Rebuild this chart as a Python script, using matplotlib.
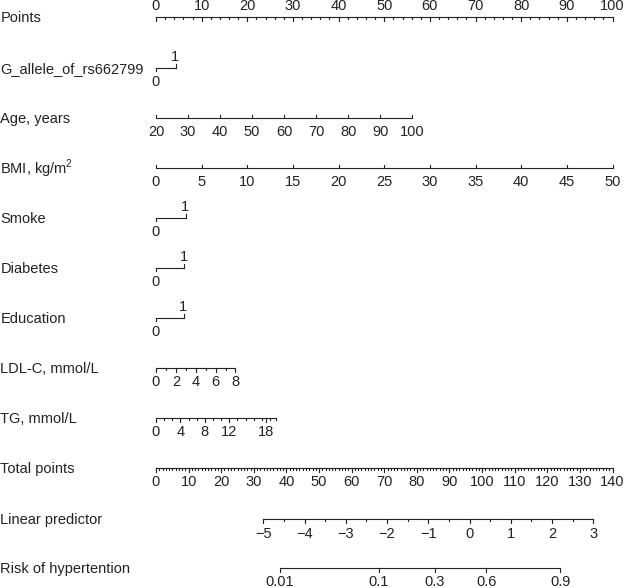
import numpy as np
import matplotlib
matplotlib.use("Agg")
import matplotlib.pyplot as plt

plt.rcParams['font.family'] = ['Liberation Sans', 'DejaVu Sans']
plt.rcParams['mathtext.fontset'] = 'custom'
plt.rcParams['mathtext.rm'] = 'Liberation Sans'

# ---------------- data ----------------
row_labels = ["Points", "G_allele_of_rs662799", "Age, years", r"BMI, kg/m$^{\mathregular{2}}$",
              "Smoke", "Diabetes", "Education", "LDL-C, mmol/L", "TG, mmol/L",
              "Total points", "Linear predictor", "Risk of hypertention"]

points_ticks = list(range(0, 101, 10))

g_allele_levels = [0, 1]
g_allele_points = [0, 4.3]

age_ticks = list(range(20, 101, 10))
age_points = [0, 56.1]          # points at age 20 and age 100

bmi_ticks = list(range(0, 51, 5))
bmi_points = [0, 100]           # points at BMI 0 and 50

smoke_levels = [0, 1]
smoke_points = [0, 6.5]
diabetes_levels = [0, 1]
diabetes_points = [0, 6.2]
education_levels = [0, 1]
education_points = [0, 6.1]

ldl_ticks = [0, 2, 4, 6, 8]
ldl_points = [0, 17.4]          # points at LDL 0 and 8

tg_ticks = [0, 4, 8, 12, 18]
tg_range = [0, 19.6]
tg_points_per_unit = 24.1 / 18

total_ticks = list(range(0, 141, 10))

lp_ticks = [-5, -4, -3, -2, -1, 0, 1, 2, 3]
lp_total_at = [32.9, 134.1]     # total points at LP -5 and LP 3

risk_ticks = [0.01, 0.1, 0.3, 0.6, 0.9]
risk_labels = ["0.01", "0.1", "0.3", "0.6", "0.9"]

# ---------------- layout ----------------
X0, X1 = 156.0, 612.5
px_per_point = (X1 - X0) / 100.0
px_per_total = (X1 - X0) / 140.0
row_y = [17, 68, 118, 168, 218, 268, 318, 368, 418, 468, 519, 568]

COL = '#222222'
LW = 0.8
FS = 10.5

fig = plt.figure(figsize=(6.24, 5.88), dpi=100)
ax = fig.add_axes([0, 0, 1, 1])
ax.set_xlim(0, 624)
ax.set_ylim(588, 0)
ax.axis('off')


def pt2px(p):
    return X0 + np.asarray(p, dtype=float) * px_per_point


def tot2px(t):
    return X0 + np.asarray(t, dtype=float) * px_per_total


def draw_scale(y, major_px, labels, minor_px=(), side='below', tick_dir=1, major_len=3.5, minor_len=2.2):
    major_px = np.asarray(major_px, dtype=float)
    allpx = np.concatenate([major_px, np.asarray(minor_px, dtype=float)]) if len(minor_px) else major_px
    ax.plot([allpx.min(), allpx.max()], [y, y], color=COL, lw=LW, solid_capstyle='butt')
    for x in major_px:
        ax.plot([x, x], [y, y + tick_dir * major_len], color=COL, lw=LW)
    for x in minor_px:
        ax.plot([x, x], [y, y + tick_dir * minor_len], color=COL, lw=LW)
    for x, lab in zip(major_px, labels):
        if side == 'below':
            ax.text(x, y + 14.5, lab, ha='center', va='center', fontsize=FS, color=COL)
        else:
            ax.text(x, y - 11, lab, ha='center', va='center', fontsize=FS, color=COL)


def draw_binary(y, levels, pts):
    x0, x1 = pt2px(pts)
    ax.plot([x0, x1], [y, y], color=COL, lw=LW)
    ax.plot([x0, x0], [y, y + 3], color=COL, lw=LW)
    ax.plot([x1, x1], [y, y - 4], color=COL, lw=LW)
    ax.text(x0, y + 13.7, str(levels[0]), ha='center', va='center', fontsize=FS, color=COL)
    ax.text(x1 - 0.5, y - 11.3, str(levels[1]), ha='center', va='center', fontsize=FS, color=COL)


# row labels
for lab, y in zip(row_labels, row_y):
    ax.text(0.5, y + 1, lab, ha='left', va='center', fontsize=FS, color=COL)

# Points
draw_scale(row_y[0], pt2px(points_ticks), [str(v) for v in points_ticks],
           minor_px=pt2px(np.arange(0, 101, 2)), side='above', tick_dir=1)

# G allele
draw_binary(row_y[1], g_allele_levels, g_allele_points)

# Age
age_slope = (age_points[1] - age_points[0]) / (age_ticks[-1] - age_ticks[0])
age_px = pt2px([age_points[0] + (a - age_ticks[0]) * age_slope for a in age_ticks])
draw_scale(row_y[2], age_px, [str(v) for v in age_ticks], side='below', tick_dir=-1)

# BMI
bmi_slope = (bmi_points[1] - bmi_points[0]) / (bmi_ticks[-1] - bmi_ticks[0])
bmi_px = pt2px([b * bmi_slope for b in bmi_ticks])
draw_scale(row_y[3], bmi_px, [str(v) for v in bmi_ticks], side='below', tick_dir=-1)

# binaries
draw_binary(row_y[4], smoke_levels, smoke_points)
draw_binary(row_y[5], diabetes_levels, diabetes_points)
draw_binary(row_y[6], education_levels, education_points)

# LDL
ldl_slope = (ldl_points[1] - ldl_points[0]) / (ldl_ticks[-1] - ldl_ticks[0])
ldl_px = pt2px([v * ldl_slope for v in ldl_ticks])
ldl_minor = pt2px(np.arange(0, 8.01, 1) * ldl_slope)
draw_scale(row_y[7], ldl_px, [str(v) for v in ldl_ticks], minor_px=ldl_minor, side='below', tick_dir=1)

# TG
tg_px = pt2px([v * tg_points_per_unit for v in tg_ticks])
tg_minor = pt2px(np.append(np.arange(0, 19.01, 4 / 3), tg_range[1]) * tg_points_per_unit)
draw_scale(row_y[8], tg_px, [str(v) for v in tg_ticks], minor_px=tg_minor, side='below', tick_dir=1)

# Total points
draw_scale(row_y[9], tot2px(total_ticks), [str(v) for v in total_ticks],
           minor_px=tot2px(np.arange(0, 141, 1)), side='below', tick_dir=1)

# Linear predictor
lp_slope = (lp_total_at[1] - lp_total_at[0]) / (lp_ticks[-1] - lp_ticks[0])


def lp2px(lp):
    return tot2px(lp_total_at[0] + (np.asarray(lp, dtype=float) - lp_ticks[0]) * lp_slope)


lp_labels = [("\u2212" + str(-v)) if v < 0 else str(v) for v in lp_ticks]
draw_scale(row_y[10], lp2px(lp_ticks), lp_labels,
           minor_px=lp2px(np.arange(-5, 3.01, 0.5)), side='below', tick_dir=1)

# Risk
risk_lp = np.log(np.array(risk_ticks) / (1 - np.array(risk_ticks)))
draw_scale(row_y[11], lp2px(risk_lp), risk_labels, side='below', tick_dir=1)

fig.savefig("out.png", dpi=100, facecolor='white')
